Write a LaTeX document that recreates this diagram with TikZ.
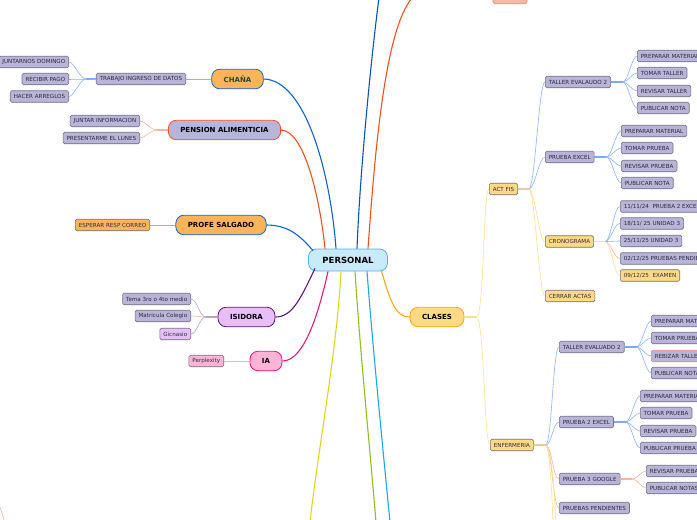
\documentclass[tikz,border=0pt]{standalone}
\usepackage{fontspec}
\setmainfont{DejaVu Sans}
\usetikzlibrary{calc}
\definecolor{lav}{HTML}{B9B4D9}
\definecolor{leafb}{HTML}{707080}
\definecolor{txt}{HTML}{2B2B3A}
\definecolor{orf}{HTML}{FCB45A}
\definecolor{yel}{HTML}{FFD985}
\definecolor{pfill}{HTML}{C8EAFA}
\definecolor{pbord}{HTML}{4FB4E6}
\definecolor{blueln}{HTML}{0B63D8}
\definecolor{redor}{HTML}{F4511E}
\definecolor{isf}{HTML}{E7BEF8}
\definecolor{purp}{HTML}{5E1675}
\definecolor{iaf}{HTML}{FFB3D6}
\definecolor{pinkln}{HTML}{F0157A}
\definecolor{clasb}{HTML}{F7A90E}
\definecolor{yelln}{HTML}{E5D51C}
\definecolor{greenln}{HTML}{8DC21F}
\definecolor{cyanln}{HTML}{1AA8F0}
\definecolor{peach}{HTML}{F7B9A7}
\definecolor{peachb}{HTML}{D98E7A}
\definecolor{lblue}{HTML}{8AB4F8}
\definecolor{lpeach}{HTML}{F9B49A}
\definecolor{lyel}{HTML}{FFE08A}
\definecolor{llav}{HTML}{B7A3D6}
\definecolor{lpink}{HTML}{FFA8CF}
\definecolor{chanatxt}{HTML}{1F4F3A}
\definecolor{rebz}{HTML}{F08080}
\definecolor{brownst}{HTML}{C07A3A}
\begin{document}
\begin{tikzpicture}[x=1pt,y=-1pt,
  leaf/.style={draw=leafb, fill=lav, rounded corners=1.5pt, text=txt,
    font=\fontsize{5.6}{6}\selectfont, inner xsep=3.5pt, inner ysep=0pt,
    minimum height=11.5pt, line width=0.6pt},
  topic/.style={rounded corners=8pt, text=black,
    font=\bfseries\fontsize{7}{8}\selectfont, inner xsep=12pt, inner ysep=0pt,
    minimum height=19.5pt, line width=0.8pt},
  mainln/.style={line width=1.1pt},
  subln/.style={line width=0.6pt},
  stubln/.style={line width=1.1pt}]
\useasboundingbox (0,0) rectangle (697,520);
\clip (0,0) rectangle (697,520);
\fill[white] (0,0) rectangle (697,520);

% ---------- central ----------
\node[topic, fill=pfill, draw=pbord, font=\bfseries\fontsize{8.5}{9}\selectfont,
  inner xsep=14pt, minimum height=22pt] (P) at (348,260) {PERSONAL};

% ---------- left side ----------
\node[topic, fill=orf, draw=blueln, text=chanatxt] (chana) at (237.5,79) {CHAÑA};
\node[leaf, anchor=east] (trab) at (186,79) {TRABAJO INGRESO DE DATOS};
\node[leaf, anchor=east] (jun) at (69,62) {JUNTARNOS DOMINGO};
\node[leaf, anchor=east] (rec) at (69,79) {RECIBIR PAGO};
\node[leaf, anchor=east] (hac) at (69,96.5) {HACER ARREGLOS};

\node[topic, fill=lav, draw=redor] (pen) at (224.5,130) {PENSION ALIMENTICIA};
\node[leaf, anchor=east] (jinf) at (140,121) {JUNTAR INFORMACION};
\node[leaf, anchor=east] (pres) at (140,138) {PRESENTARME EL LUNES};

\node[topic, fill=orf, draw=blueln] (prof) at (221,225) {PROFE SALGADO};
\node[leaf, anchor=east, fill=orf] (esp) at (150,225) {ESPERAR RESP CORREO};

\node[topic, fill=isf, draw=purp] (isi) at (246.5,317) {ISIDORA};
\node[leaf, anchor=east] (tema) at (191,299) {Tema 3ro o 4to medio};
\node[leaf, anchor=east] (mat) at (191,316) {Matricula Colegio};
\node[leaf, anchor=east, fill=isf] (gic) at (191,334) {Gicnasio};

\node[topic, fill=iaf, draw=pinkln] (ia) at (266,361) {IA};
\node[leaf, anchor=east, fill=iaf] (perp) at (224,361) {Perplexity};

% ---------- right side ----------
\node[leaf, anchor=south, fill=peach, draw=peachb, minimum width=34pt] (pk) at (510,4) {};

\node[topic, fill=yel, draw=clasb] (cla) at (437,317) {CLASES};
\node[leaf, anchor=west, fill=yel] (act) at (489,189) {ACT FIS};

\node[leaf, anchor=west] (te2) at (545,82) {TALLER EVALAUDO 2};
\node[leaf, anchor=west] (a1) at (637,56) {PREPARAR MATERIAL};
\node[leaf, anchor=west] (a2) at (637,73) {TOMAR TALLER};
\node[leaf, anchor=west] (a3) at (637,91) {REVISAR TALLER};
\node[leaf, anchor=west] (a4) at (637,108) {PUBLICAR NOTA};

\node[leaf, anchor=west] (pex) at (545,157) {PRUEBA EXCEL};
\node[leaf, anchor=west] (b1) at (621,131) {PREPARAR MATERIAL};
\node[leaf, anchor=west] (b2) at (621,148) {TOMAR PRUEBA};
\node[leaf, anchor=west] (b3) at (621,166) {REVISAR PRUEBA};
\node[leaf, anchor=west] (b4) at (621,183) {PUBLICAR NOTA};

\node[leaf, anchor=west, fill=yel] (cro) at (545,241.5) {CRONOGRAMA};
\node[leaf, anchor=west] (c1) at (620,206.5) {11/11/24\ \ PRUEBA 2 EXCEL};
\node[leaf, anchor=west] (c2) at (620,223.5) {18/11/ 25 UNIDAD 3};
\node[leaf, anchor=west] (c3) at (620,241) {25/11/25 UNIDAD 3};
\node[leaf, anchor=west] (c4) at (620,258.5) {02/12/25 PRUEBAS PENDIENTES};
\node[leaf, anchor=west, fill=yel] (c5) at (620,275.5) {09/12/25\ \ EXAMEN};

\node[leaf, anchor=west, fill=yel] (cer) at (545,296) {CERRAR ACTAS};

\node[leaf, anchor=west, fill=yel] (enf) at (490,445) {ENFERMERIA};
\node[leaf, anchor=west] (tev) at (559,347) {TALLER EVALUADO 2};
\node[leaf, anchor=west] (d1) at (651,321) {PREPARAR MATERIAL};
\node[leaf, anchor=west] (d2) at (651,338) {TOMAR PRUEBA};
\node[leaf, anchor=west, draw=rebz] (d3) at (651,356) {REBIZAR TALLER};
\node[leaf, anchor=west] (d4) at (651,373) {PUBLICAR NOTA};

\node[leaf, anchor=west] (p2e) at (559,422) {PRUEBA 2 EXCEL};
\node[leaf, anchor=west] (e1) at (640,396) {PREPARAR MATERIAL};
\node[leaf, anchor=west] (e2) at (640,413) {TOMAR PRUEBA};
\node[leaf, anchor=west] (e3) at (640,431) {REVISAR PRUEBA};
\node[leaf, anchor=west] (e4) at (640,448) {PUBLICAR PRUEBA};

\node[leaf, anchor=west] (p3g) at (559,479) {PRUEBA 3 GOOGLE};
\node[leaf, anchor=west] (f1) at (646,471) {REVISAR PRUEBA};
\node[leaf, anchor=west] (f2) at (646,488) {PUBLICAR NOTAS};

\node[leaf, anchor=west] (ppen) at (559,508) {PRUEBAS PENDIENTES};

% ---------- free ends ----------
\coordinate (topB) at (379,-2);
\coordinate (topO) at (412,-2);
\coordinate (botY) at (310,522);
\coordinate (botG) at (376,522);
\coordinate (botC) at (390,522);
\coordinate (enfD1) at (553,530);
\coordinate (enfD2) at (556,530);
\coordinate (bl1) at (-6,496);
\coordinate (bl2) at (5,524);

\begin{scope}[on background layer/.style={}]
% ---------- main connectors ----------
\draw[mainln, blueln] (chana.east) .. controls (305,80) and (330,170) .. ($(P.north)+(-12,0)$);
\draw[mainln, redor] (pen.east) .. controls (305,131) and (320,200) .. ($(P.north)+(-23,0)$);
\draw[mainln, blueln] (prof.east) .. controls (290,225) and (302,238) .. ($(P.north)+(-35,2)$);
\draw[mainln, blueln!85!black] ($(P.north)+(9,0)$) .. controls (360,170) and (372,50) .. (topB);
\draw[mainln, redor] ($(P.north)+(20,0)$) .. controls (375,150) and (385,30) .. (topO);
\draw[mainln, purp] ($(P.south)+(-33,-3)$) .. controls (300,300) and (292,317) .. (isi.east);
\draw[mainln, pinkln] ($(P.south)+(-20,0)$) .. controls (315,330) and (300,361) .. (ia.east);
\draw[mainln, yelln] ($(P.south)+(-7,0)$) .. controls (337,350) and (318,450) .. (botY);
\draw[mainln, greenln] ($(P.south)+(7,0)$) .. controls (360,350) and (370,450) .. (botG);
\draw[mainln, cyanln] ($(P.south)+(19,0)$) .. controls (373,350) and (383,450) .. (botC);
\draw[mainln, clasb] ($(P.south)+(33,-2)$) .. controls (390,300) and (395,317) .. (cla.west);
\draw[subln, lpeach] (bl1) .. controls (0,505) and (2,512) .. (bl2);
\end{scope}

% ---------- left sub connectors ----------
\draw[subln, lblue] (chana.west) -- (trab.east);
\draw[stubln, lblue!70!blueln] (trab.west) -- ++(-10,0);
\foreach \c in {jun,rec,hac}
  \draw[subln, lblue] (trab.west) -- ++(-10,0) .. controls +(-6,0) and +(5,0) .. (\c.east);

\draw[stubln, lpeach] (pen.west) -- ++(-12,0);
\foreach \c in {jinf,pres}
  \draw[subln, lpeach] (pen.west) -- ++(-12,0) .. controls +(-5,0) and +(5,0) .. (\c.east);

\draw[subln, lblue] (prof.west) -- (esp.east);

\draw[stubln, llav!80!purp] (isi.west) -- ++(-12,0);
\draw[subln, llav] (isi.west) -- ++(-12,0) .. controls +(-6,0) and +(6,0) .. (tema.east);
\draw[subln, lpeach] (isi.west) -- ++(-12,0) .. controls +(-6,0) and +(6,0) .. (mat.east);
\draw[subln, llav] (isi.west) -- ++(-12,0) .. controls +(-6,0) and +(6,0) .. (gic.east);

\draw[subln, lpink] (ia.west) -- (perp.east);

% ---------- right sub connectors ----------
\draw[stubln, lyel] (cla.east) -- ++(12,0);
\draw[subln, lyel] (cla.east) -- ++(12,0) .. controls +(8,0) and +(-6,0) .. (act.west);
\draw[subln, lyel] (cla.east) -- ++(12,0) .. controls +(8,0) and +(-6,0) .. (enf.west);

\draw[stubln, clasb!70!white] (act.east) -- ++(11,0);
\foreach \c in {te2,pex}
  \draw[subln, lblue] (act.east) -- ++(11,0) .. controls +(6,0) and +(-6,0) .. (\c.west);
\foreach \c in {cro,cer}
  \draw[subln, lyel] (act.east) -- ++(11,0) .. controls +(6,0) and +(-6,0) .. (\c.west);

\draw[stubln, blueln!80!white] (te2.east) -- ++(12,0);
\foreach \c in {a1,a2,a3,a4}
  \draw[subln, lblue] (te2.east) -- ++(12,0) .. controls +(5,0) and +(-5,0) .. (\c.west);

\draw[stubln, blueln!80!white] (pex.east) -- ++(12,0);
\foreach \c in {b1,b2,b3,b4}
  \draw[subln, lblue] (pex.east) -- ++(12,0) .. controls +(5,0) and +(-5,0) .. (\c.west);

\draw[stubln, brownst] (cro.east) -- ++(11,0);
\foreach \c in {c1,c2,c3}
  \draw[subln, lblue] (cro.east) -- ++(11,0) .. controls +(6,0) and +(-6,0) .. (\c.west);
\draw[subln, lpeach] (cro.east) -- ++(11,0) .. controls +(6,0) and +(-6,0) .. (c4.west);
\draw[subln, lyel] (cro.east) -- ++(11,0) .. controls +(6,0) and +(-6,0) .. (c5.west);

\draw[stubln, brownst!60!clasb] (enf.east) -- ++(12,0);
\foreach \c in {tev,p2e}
  \draw[subln, lblue] (enf.east) -- ++(12,0) .. controls +(6,0) and +(-6,0) .. (\c.west);
\foreach \c in {p3g,ppen}
  \draw[subln, lpeach] (enf.east) -- ++(12,0) .. controls +(6,0) and +(-6,0) .. (\c.west);
\draw[subln, lyel] (enf.east) -- ++(12,0) .. controls +(4,0) and +(0,-20) .. (enfD1);
\draw[subln, lyel] (enf.east) -- ++(12,0) .. controls +(6,0) and +(0,-20) .. (enfD2);

\draw[stubln, blueln!80!white] (tev.east) -- ++(12,0);
\foreach \c in {d1,d2,d3,d4}
  \draw[subln, lblue] (tev.east) -- ++(12,0) .. controls +(5,0) and +(-5,0) .. (\c.west);

\draw[stubln, blueln!80!white] (p2e.east) -- ++(12,0);
\foreach \c in {e1,e2,e3,e4}
  \draw[subln, lblue] (p2e.east) -- ++(12,0) .. controls +(5,0) and +(-5,0) .. (\c.west);

\draw[stubln, lpeach] (p3g.east) -- ++(12,0);
\foreach \c in {f1,f2}
  \draw[subln, lpeach] (p3g.east) -- ++(12,0) .. controls +(5,0) and +(-5,0) .. (\c.west);
\end{tikzpicture}
\end{document}
